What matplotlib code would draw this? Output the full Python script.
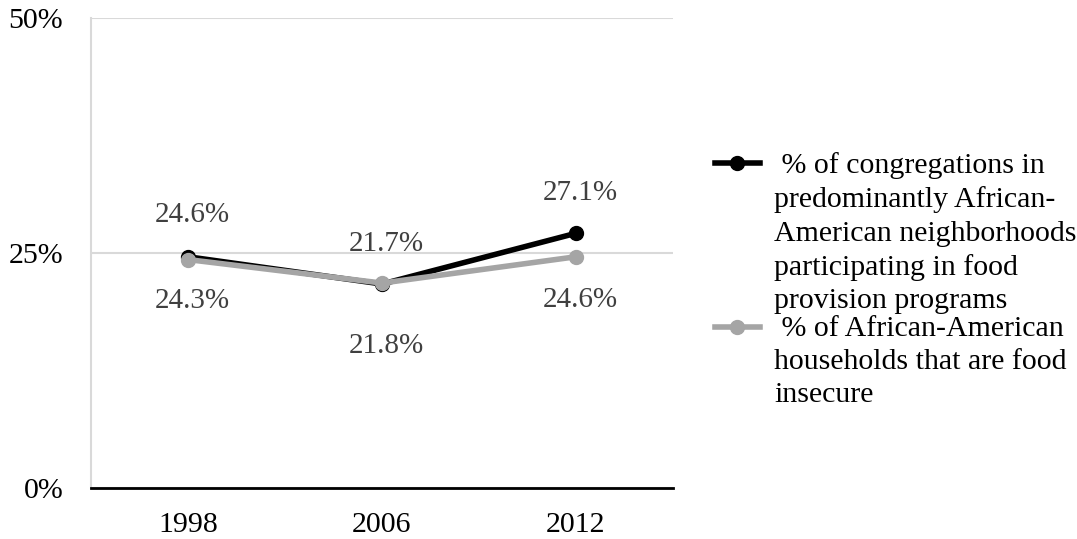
import numpy as np
import matplotlib.pyplot as plt
from matplotlib.lines import Line2D

plt.rcParams['font.family'] = ['Liberation Serif', 'DejaVu Serif']

years = ['1998', '2006', '2012']
congregations = [24.6, 21.7, 27.1]
food_insecure = [24.3, 21.8, 24.6]
label_cong = ' % of congregations in\npredominantly African-\nAmerican neighborhoods\nparticipating in food\nprovision programs'
label_food = ' % of African-American\nhouseholds that are food\ninsecure'

fig = plt.figure(figsize=(10.77, 5.39), dpi=100)
ax = fig.add_axes([91/1077, 51/539, 582/1077, 470/539])

x = np.arange(len(years))
black = '#000000'
gray = '#a5a5a5'

ax.plot(x, congregations, color=black, lw=4, marker='o', ms=10, zorder=3, solid_capstyle='round')
ax.plot(x, food_insecure, color=gray, lw=4, marker='o', ms=10, zorder=4, solid_capstyle='round')

# data labels: black above, gray below
up_off = [30, 29, 29]
down_off = [-30, -45, -31]
for i in range(len(years)):
    ax.annotate(f'{congregations[i]:.1f}%', (x[i], congregations[i]), xytext=(3, up_off[i]),
                textcoords='offset points', ha='center', va='center', fontsize=21, color='#404040')
    ax.annotate(f'{food_insecure[i]:.1f}%', (x[i], food_insecure[i]), xytext=(3, down_off[i]),
                textcoords='offset points', ha='center', va='center', fontsize=21, color='#404040')

ax.set_xlim(-0.5, 2.5)
ax.set_ylim(0, 50)
ax.set_xticks(x)
ax.set_xticklabels(years, fontsize=21.5)
ax.set_yticks([0, 25, 50])
ax.set_yticklabels(['0%', '25%', '50%'], fontsize=21.5)
ax.tick_params(axis='both', length=0)
ax.tick_params(axis='x', pad=17)
ax.tick_params(axis='y', pad=20)
ax.grid(axis='y', color='#d9d9d9', lw=1.5)
ax.set_axisbelow(True)
for s in ['top', 'right']:
    ax.spines[s].set_visible(False)
ax.spines['left'].set_color('#d9d9d9')
ax.spines['left'].set_linewidth(1.5)
ax.spines['bottom'].set_color('black')
ax.spines['bottom'].set_linewidth(2)

# legend drawn by hand so the marker sits on the first text line
W, H = 1077, 539
for (col, lab, ypix) in [(black, label_cong, 163), (gray, label_food, 327)]:
    yf = 1 - ypix / H
    fig.add_artist(Line2D([715/W, 760/W], [yf, yf], color=col, lw=4, transform=fig.transFigure))
    fig.add_artist(Line2D([737/W], [yf], color=col, marker='o', ms=10, transform=fig.transFigure))
    fig.text(774/W, 1 - (ypix - 11) / H, lab, fontsize=21.5, va='top', ha='left', linespacing=1.36)

fig.savefig('out.png', dpi=100)
